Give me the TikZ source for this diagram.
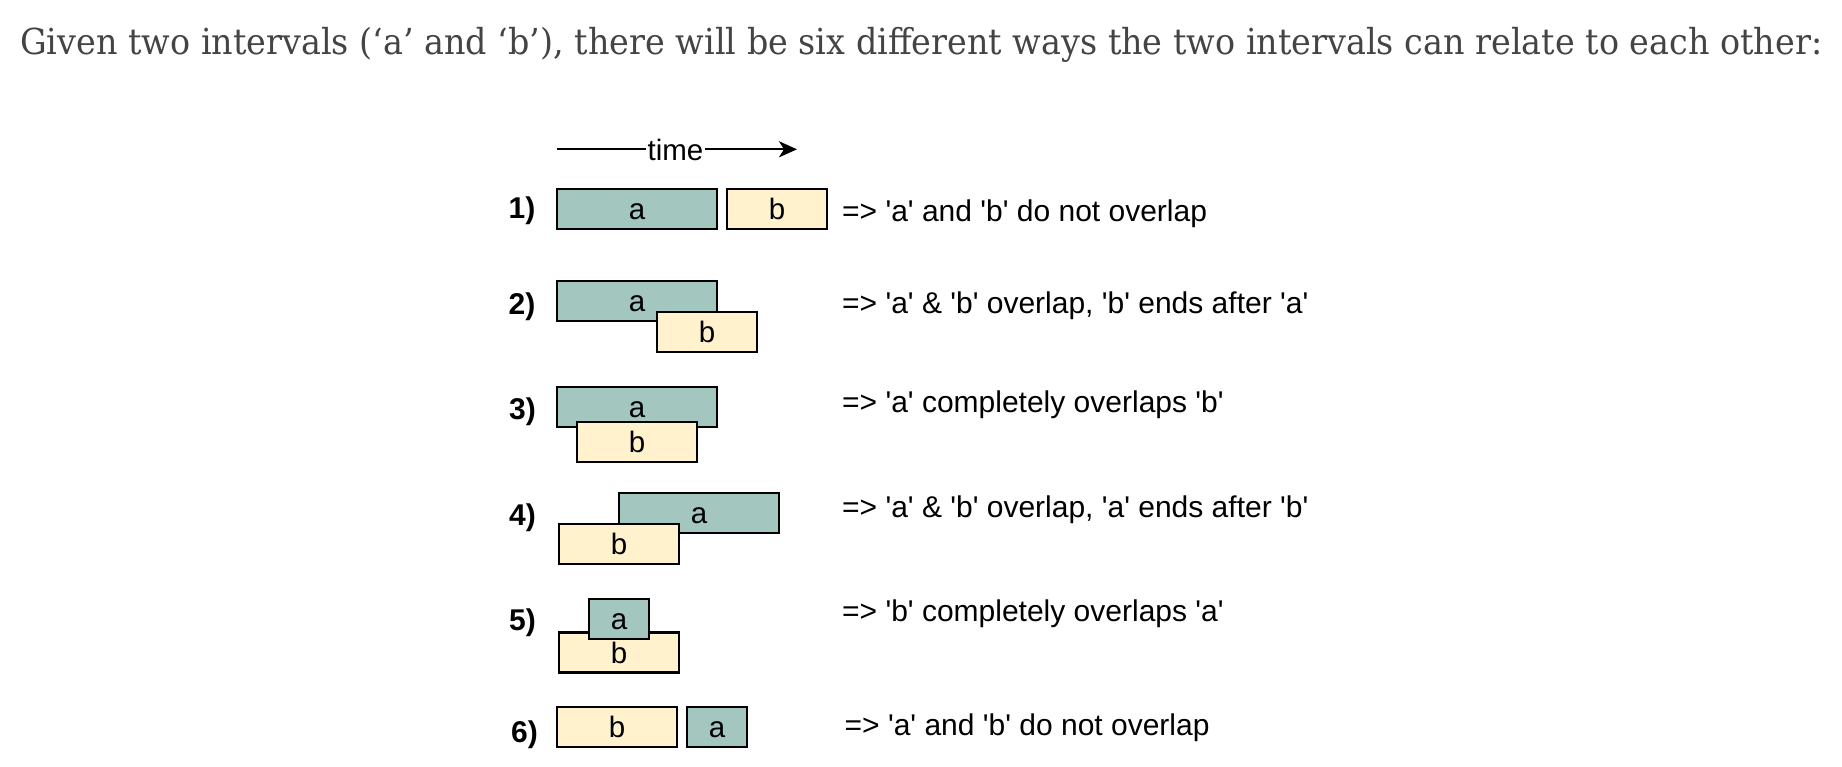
\documentclass[tikz,border=0pt]{standalone}
\usepackage{graphicx}
\usepackage{fontspec}
\setmainfont{Liberation Sans}[Ligatures=TeXOff]
\newfontfamily\titlefont{DejaVu Serif}
\usetikzlibrary{arrows.meta}
\definecolor{ivteal}{HTML}{A3C7BF}
\definecolor{ivyellow}{HTML}{FFF2CC}
\definecolor{titlegray}{HTML}{444444}
\newlength\titlew
\newcommand\titletext{Given two intervals (‘a’ and ‘b’), there will be six different ways the two intervals can relate to each other:}
\newcommand\titlesize{\titlefont\fontsize{35.8}{42}\selectfont}
\begin{document}
\settowidth\titlew{\titlesize\titletext}%
\pgfmathsetmacro\tsx{1802/\titlew}%
\begin{tikzpicture}[x=1pt,y=-1pt,
  every node/.style={font=\fontsize{29.5}{35}\selectfont},
  ibox/.style={draw=black, line width=2.2pt, inner sep=0pt, text height=21.1pt, text depth=0pt, minimum height=40pt},
  abox/.style={ibox, fill=ivteal},
  bbox/.style={ibox, fill=ivyellow},
  lbl/.style={anchor=base, font=\fontsize{30}{35}\selectfont\bfseries},
  desc/.style={anchor=base west, inner sep=0pt, font=\fontsize{30}{35}\selectfont},
  timeline/.style={line width=2.2pt, -{Stealth[length=18pt,width=16pt,inset=5pt]}},
]
\useasboundingbox (0,0) rectangle (1842,766);

% title
\node[anchor=base west, inner sep=0pt, text=titlegray] (title) at (20,54)
  {\scalebox{\tsx}[1]{\titlesize\titletext}};

% time arrow
\coordinate (t0) at (557,149.3);
\coordinate (t1) at (797,149.3);
\draw[timeline] (t0) -- (t1);
\node[fill=white, inner xsep=2pt, inner ysep=1pt, anchor=base] (time) at (675.5,160.5) {time};

% row 1
\node[lbl] (l1) at (522,218.5) {1)};
\node[abox, minimum width=160pt] (a1) at (637,209) {a};
\node[bbox, minimum width=100pt] (b1) at (777,209) {b};
\node[desc] (d1) at (842,221) {=> 'a' and 'b' do not overlap};

% row 2
\node[lbl] (l2) at (522,314.6) {2)};
\node[abox, minimum width=160pt] (a2) at (637,301) {a};
\node[bbox, minimum width=100pt] (b2) at (707,332) {b};
\node[desc] (d2) at (842,313) {=> 'a' \& 'b' overlap, 'b' ends after 'a'};

% row 3
\node[lbl] (l3) at (522.5,419.6) {3)};
\node[abox, minimum width=160pt] (a3) at (637,407) {a};
\node[bbox, minimum width=120pt] (b3) at (637,442) {b};
\node[desc] (d3) at (842,412) {=> 'a' completely overlaps 'b'};

% row 4
\node[lbl] (l4) at (522.5,525.9) {4)};
\node[abox, minimum width=160pt] (a4) at (699,513) {a};
\node[bbox, minimum width=120pt] (b4) at (619,544) {b};
\node[desc] (d4) at (842,517.5) {=> 'a' \& 'b' overlap, 'a' ends after 'b'};

% row 5
\node[lbl] (l5) at (522.5,630.3) {5)};
\node[bbox, minimum width=120pt] (b5) at (619,652.5) {b};
\node[abox, minimum width=60pt] (a5) at (619,619) {a};
\node[desc] (d5) at (842,621) {=> 'b' completely overlaps 'a'};

% row 6
\node[lbl] (l6) at (524.5,742.6) {6)};
\node[bbox, minimum width=120pt] (b6) at (617,727) {b};
\node[abox, minimum width=60pt] (a6) at (717,727) {a};
\node[desc] (d6) at (844.5,735) {=> 'a' and 'b' do not overlap};
\end{tikzpicture}
\end{document}
